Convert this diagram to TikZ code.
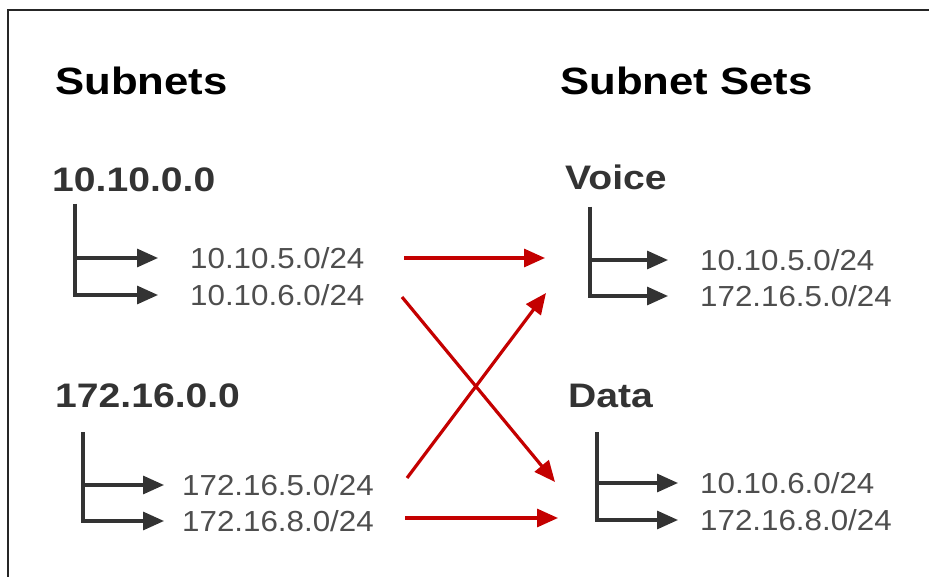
\documentclass[tikz,border=0pt]{standalone}
\usepackage{fontspec}
\setmainfont{Liberation Sans}
\newfontfamily\headfont[FakeStretch=1.15]{Liberation Sans}
\newfontfamily\netfont[FakeStretch=1.08]{Liberation Sans}
\usetikzlibrary{positioning,calc}
\usetikzlibrary{arrows.meta}
\definecolor{LinkRed}{RGB}{196,0,0}
\definecolor{TreeGray}{RGB}{51,51,51}
\definecolor{NetGray}{RGB}{78,78,78}
\tikzset{head/.style={anchor=base west,inner sep=0pt,font=\headfont\bfseries\fontsize{38}{40}\selectfont}, group/.style={anchor=base west,inner sep=0pt,text=TreeGray,font=\headfont\bfseries\fontsize{34}{36}\selectfont}, net/.style={anchor=west,inner sep=0pt,text=NetGray,font=\netfont\fontsize{29}{31}\selectfont}, tree/.style={draw=TreeGray,line width=3.2pt,-{Triangle[length=21pt,width=18pt]},shorten >=32pt}, link/.style={draw=LinkRed,line width=3.2pt,-{Triangle[length=21pt,width=18pt]}}}

\begin{document}
\begin{tikzpicture}[x=1pt,y=-1pt]
\useasboundingbox (0,0) rectangle (929,577);
\draw[line width=1.5pt,black!85] (929,10) -- (8,10) -- (8,577);
\node[head] (subnets) at (55,95) {Subnets};
\node[head] (sets) at (560,95) {Subnet Sets};
\node[group] (g10) at (52,192) {10.10.0.0};
\node[group] (g172) at (55,407) {172.16.0.0};
\node[group] (voice) at (565,190) {Voice};
\node[group] (data) at (568,407) {Data};
\coordinate (t10) at (75,204);
\coordinate (t172) at (83,432);
\coordinate (tv) at (590,207);
\coordinate (td) at (597,432);
\node[net] (a1) at (190,258) {10.10.5.0/24};
\node[net] (a2) at (190,295) {10.10.6.0/24};
\node[net] (b1) at (182,485) {172.16.5.0/24};
\node[net] (b2) at (182,521) {172.16.8.0/24};
\node[net] (v1) at (700,260) {10.10.5.0/24};
\node[net] (v2) at (700,296) {172.16.5.0/24};
\node[net] (d1) at (700,483) {10.10.6.0/24};
\node[net] (d2) at (700,520) {172.16.8.0/24};
\draw[tree] (t10) |- (a1);
\draw[tree] (t10) |- (a2);
\draw[tree,shorten >=18pt] (t172) |- (b1);
\draw[tree,shorten >=18pt] (t172) |- (b2);
\draw[tree] (tv) |- (v1);
\draw[tree] (tv) |- (v2);
\draw[tree,shorten >=22pt] (td) |- (d1);
\draw[tree,shorten >=22pt] (td) |- (d2);
\coordinate (s1) at (404,258);
\coordinate (e1) at (545,258);
\coordinate (s2) at (402,297);
\coordinate (e2) at (555,482);
\coordinate (s3) at (407,478);
\coordinate (e3) at (546,293);
\coordinate (s4) at (405,518);
\coordinate (e4) at (558,518);
\draw[link] (s1) -- (e1);
\draw[link] (s2) -- (e2);
\draw[link] (s3) -- (e3);
\draw[link] (s4) -- (e4);
\end{tikzpicture}
\end{document}
